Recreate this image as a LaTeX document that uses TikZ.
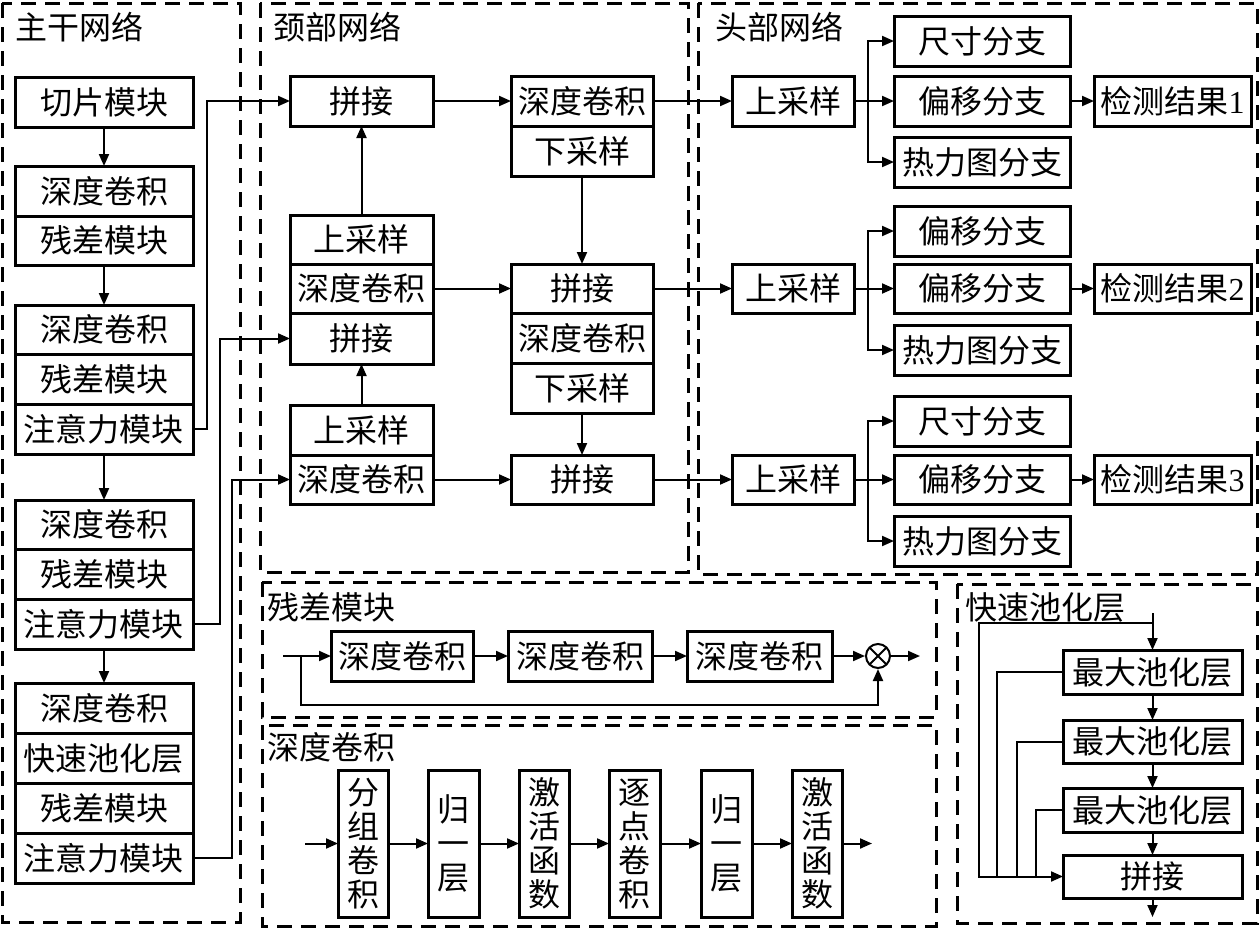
\documentclass[tikz,border=0pt]{standalone}
\usepackage{fontspec}
\setmainfont{Liberation Serif}
\newfontfamily\cjk{Noto Sans CJK SC}
\usetikzlibrary{arrows.meta}
\tikzset{
  bx/.style={draw, line width=1.5pt, inner sep=0pt, outer sep=0pt, anchor=north west, align=center,
             font=\cjk\fontsize{16}{17}\selectfont},
  panel/.style={draw, line width=1.5pt, dash pattern=on 7.5pt off 4.5pt},
  ttl/.style={anchor=west, inner sep=0pt, font=\cjk\fontsize{16}{17}\selectfont},
  arr/.style={line width=1pt, -{Triangle[length=6pt,width=5pt]}},
  ln/.style={line width=1pt},
  otimes/.style={draw, circle, line width=1pt, minimum size=12pt, inner sep=0pt,
    path picture={\draw[line width=1pt] (path picture bounding box.north west)--(path picture bounding box.south east)
      (path picture bounding box.north east)--(path picture bounding box.south west);}}
}
\newcommand\mkbox[6]{\node[bx, minimum width={(#4-#2)*0.5pt}, minimum height={(#5-#3)*0.5pt}] (#1) at (#2,#3) {#6};}
\begin{document}
\begin{tikzpicture}[x=0.5pt,y=-0.5pt]
\useasboundingbox (0,0) rectangle (1260,928);
% panels
\draw[panel] (2,3) rectangle (240,922);
\draw[panel] (260,3) rectangle (688,572);
\draw[panel] (698,3) rectangle (1257,574);
\draw[panel] (262,582) rectangle (936,717);
\draw[panel] (262,725) rectangle (936,926);
\draw[panel] (957,584) rectangle (1257,923);
% titles
\node[ttl] (tb) at (15,27) {主干网络};
\node[ttl] (tn) at (273,27) {颈部网络};
\node[ttl] (th) at (715,27) {头部网络};
\node[ttl] (tr) at (267,607) {残差模块};
\node[ttl] (td) at (267,747) {深度卷积};
\node[ttl] (tf) at (965,607) {快速池化层};
% backbone
\mkbox{b0}{15}{77}{193}{127}{切片模块}
\mkbox{b1a}{15}{166}{193}{216}{深度卷积}
\mkbox{b1b}{15}{216}{193}{265}{残差模块}
\mkbox{b2a}{15}{305}{193}{354}{深度卷积}
\mkbox{b2b}{15}{354}{193}{404}{残差模块}
\mkbox{b2c}{15}{404}{193}{454}{注意力模块}
\mkbox{b3a}{15}{500}{193}{549}{深度卷积}
\mkbox{b3b}{15}{549}{193}{599}{残差模块}
\mkbox{b3c}{15}{599}{193}{649}{注意力模块}
\mkbox{b4a}{15}{683}{193}{733}{深度卷积}
\mkbox{b4b}{15}{733}{193}{783}{快速池化层}
\mkbox{b4c}{15}{783}{193}{833}{残差模块}
\mkbox{b4d}{15}{833}{193}{883}{注意力模块}
\draw[arr] (b0.south) -- (b1a.north);
\draw[arr] (b1b.south) -- (b2a.north);
\draw[arr] (b2c.south) -- (b3a.north);
\draw[arr] (b3c.south) -- (b4a.north);
% neck
\mkbox{n1}{290}{76}{433}{126}{拼接}
\mkbox{n2a}{290}{215}{433}{264}{上采样}
\mkbox{n2b}{290}{264}{433}{313}{深度卷积}
\mkbox{n2c}{290}{313}{433}{364}{拼接}
\mkbox{n4a}{290}{405}{433}{455}{上采样}
\mkbox{n4b}{290}{455}{433}{504}{深度卷积}
\mkbox{r1a}{511}{76}{653}{126}{深度卷积}
\mkbox{r1b}{511}{126}{653}{176}{下采样}
\mkbox{r2a}{511}{264}{653}{313}{拼接}
\mkbox{r2b}{511}{313}{653}{363}{深度卷积}
\mkbox{r2c}{511}{363}{653}{413}{下采样}
\mkbox{r3}{511}{455}{653}{504}{拼接}
\draw[arr] (b2c.east) -- ++(14,0) |- (n1.west);
\draw[arr] (b3c.east) -- ++(27,0) |- (n2c.west);
\draw[arr] (b4d.east) -- ++(39,0) |- (n4b.west);
\draw[arr] (n1.east) -- (r1a.west);
\draw[arr] (n2a.north) -- (n1.south);
\draw[arr] (n4a.north) -- (n2c.south);
\draw[arr] (n2b.east) -- (r2a.west);
\draw[arr] (n4b.east) -- (r3.west);
\draw[arr] (r1b.south) -- (r2a.north);
\draw[arr] (r2c.south) -- (r3.north);
% head
\mkbox{h1}{732}{76}{854}{126}{上采样}
\mkbox{h2}{732}{264}{854}{313}{上采样}
\mkbox{h3}{732}{455}{854}{504}{上采样}
\mkbox{s1}{894}{16}{1070}{66}{尺寸分支}
\mkbox{o1}{894}{76}{1070}{126}{偏移分支}
\mkbox{t1}{894}{137}{1070}{187}{热力图分支}
\mkbox{d1}{1094}{76}{1251}{126}{检测结果{\rmfamily 1}}
\mkbox{s2}{894}{206}{1070}{256}{偏移分支}
\mkbox{o2}{894}{264}{1070}{313}{偏移分支}
\mkbox{t2}{894}{325}{1070}{375}{热力图分支}
\mkbox{d2}{1094}{264}{1251}{313}{检测结果{\rmfamily 2}}
\mkbox{s3}{894}{396}{1070}{446}{尺寸分支}
\mkbox{o3}{894}{455}{1070}{504}{偏移分支}
\mkbox{t3}{894}{516}{1070}{566}{热力图分支}
\mkbox{d3}{1094}{455}{1251}{504}{检测结果{\rmfamily 3}}
\draw[arr] (r1a.east) -- (h1.west);
\draw[arr] (r2a.east) -- (h2.west);
\draw[arr] (r3.east) -- (h3.west);
\foreach \i in {1,2,3}{
  \path (h\i.east) ++(14,0) coordinate (j\i);
  \draw[ln] (h\i.east) -- (j\i);
  \draw[arr] (j\i) |- (s\i.west);
  \draw[arr] (j\i) -- (o\i.west);
  \draw[arr] (j\i) |- (t\i.west);
  \draw[arr] (o\i.east) -- (d\i.west);
}
% residual module
\mkbox{rb1}{331}{631}{473}{681}{深度卷积}
\mkbox{rb2}{508}{631}{652}{681}{深度卷积}
\mkbox{rb3}{687}{631}{832}{681}{深度卷积}
\node[otimes] (ox) at (878,656) {};
\coordinate (rin) at (283,656);
\coordinate (rsp) at (301,656);
\coordinate (rout) at (920,656);
\draw[arr] (rin) -- (rb1.west);
\draw[arr] (rb1.east) -- (rb2.west);
\draw[arr] (rb2.east) -- (rb3.west);
\draw[arr] (rb3.east) -- (ox.west);
\draw[arr] (ox.east) -- (rout);
\draw[arr] (rsp) -- (301,705) -| (ox.south);
% depthwise conv
\mkbox{dc1}{338}{770}{388}{917}{分\\组\\卷\\积}
\mkbox{dc2}{428}{770}{479}{917}{归\\一\\层}
\mkbox{dc3}{519}{770}{569}{917}{激\\活\\函\\数}
\mkbox{dc4}{609}{770}{660}{917}{逐\\点\\卷\\积}
\mkbox{dc5}{701}{770}{752}{917}{归\\一\\层}
\mkbox{dc6}{792}{770}{842}{917}{激\\活\\函\\数}
\coordinate (din) at (305,843.5);
\coordinate (dout) at (872,843.5);
\draw[arr] (din) -- (dc1.west);
\draw[arr] (dc1.east) -- (dc2.west);
\draw[arr] (dc2.east) -- (dc3.west);
\draw[arr] (dc3.east) -- (dc4.west);
\draw[arr] (dc4.east) -- (dc5.west);
\draw[arr] (dc5.east) -- (dc6.west);
\draw[arr] (dc6.east) -- (dout);
% fast pooling
\mkbox{f1}{1063}{650}{1242}{694}{最大池化层}
\mkbox{f2}{1063}{720}{1242}{763}{最大池化层}
\mkbox{f3}{1063}{788}{1242}{832}{最大池化层}
\mkbox{fc}{1063}{855}{1242}{898}{拼接}
\coordinate (fin) at (1152.5,613);
\coordinate (fsp) at (1152.5,623);
\coordinate (fout) at (1152.5,917);
\draw[arr] (fin) -- (f1.north);
\draw[arr] (f1.south) -- (f2.north);
\draw[arr] (f2.south) -- (f3.north);
\draw[arr] (f3.south) -- (fc.north);
\draw[arr] (fc.south) -- (fout);
\draw[arr] (fsp) -- (979,623) |- (fc.west);
\draw[ln] (f1.west) -| (997,876.5);
\draw[ln] (f2.west) -| (1017,876.5);
\draw[ln] (f3.west) -| (1036,876.5);
\end{tikzpicture}
\end{document}
